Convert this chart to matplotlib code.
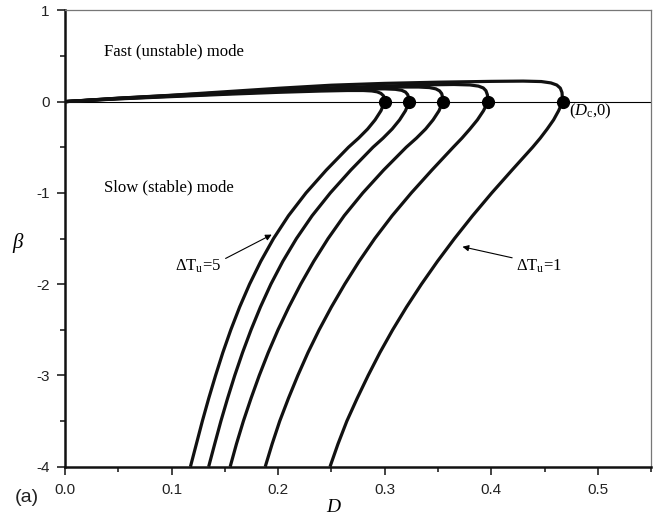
import matplotlib
matplotlib.use("Agg")
import matplotlib.pyplot as plt
from matplotlib.ticker import MultipleLocator, FixedLocator, FuncFormatter

plt.rcParams["mathtext.fontset"] = "custom"
plt.rcParams["mathtext.rm"] = "Liberation Serif"
plt.rcParams["mathtext.it"] = "Liberation Serif:italic"

# Critical points (D_c, 0), from ΔT_u=5 (left) to ΔT_u=1 (right)
d_crit = [0.300, 0.323, 0.3545, 0.397, 0.467]

# Upper (fast, unstable) branches: from the origin up and over to D_c
fast1_d = [0.0, 0.05, 0.10, 0.15, 0.20, 0.24, 0.265, 0.28, 0.288, 0.293, 0.2965, 0.2988, 0.2998, 0.300]
fast1_b = [0.0, 0.03, 0.055, 0.08, 0.102, 0.116, 0.122, 0.122, 0.117, 0.107, 0.09, 0.065, 0.035, 0.0]

fast2_d = [0.0, 0.05, 0.10, 0.15, 0.20, 0.25, 0.28, 0.300, 0.310, 0.316, 0.3195, 0.3215, 0.3226, 0.323]
fast2_b = [0.0, 0.032, 0.06, 0.087, 0.111, 0.13, 0.138, 0.14, 0.135, 0.124, 0.105, 0.078, 0.042, 0.0]

fast3_d = [0.0, 0.05, 0.10, 0.15, 0.20, 0.25, 0.29, 0.315, 0.332, 0.342, 0.348, 0.3515, 0.3535, 0.3543, 0.3545]
fast3_b = [0.0, 0.035, 0.064, 0.093, 0.12, 0.142, 0.155, 0.16, 0.16, 0.154, 0.14, 0.118, 0.088, 0.05, 0.0]

fast4_d = [0.0, 0.05, 0.10, 0.15, 0.20, 0.25, 0.30, 0.34, 0.365, 0.38, 0.388, 0.3925, 0.395, 0.3964, 0.397]
fast4_b = [0.0, 0.037, 0.068, 0.099, 0.128, 0.152, 0.171, 0.184, 0.188, 0.183, 0.17, 0.15, 0.12, 0.075, 0.0]

fast5_d = [0.0, 0.05, 0.10, 0.15, 0.20, 0.25, 0.30, 0.35, 0.40, 0.43, 0.447, 0.456, 0.4615, 0.4648, 0.4664, 0.467]
fast5_b = [0.0, 0.038, 0.07, 0.108, 0.146, 0.18, 0.2, 0.213, 0.222, 0.225, 0.22, 0.205, 0.182, 0.148, 0.1, 0.0]

# Lower (slow, stable) branches: D at each beta level below D_c
slow_b = [-0.1, -0.2, -0.3, -0.4, -0.5, -0.75, -1.0, -1.25, -1.5, -1.75, -2.0,
          -2.25, -2.5, -2.75, -3.0, -3.25, -3.5, -3.75, -4.0]
slow1_d = [0.2965, 0.291, 0.284, 0.2755, 0.266, 0.2452, 0.2262, 0.2097, 0.1957, 0.1837, 0.1732,
           0.1639, 0.1556, 0.1481, 0.1413, 0.1349, 0.1289, 0.1233, 0.1177]
slow2_d = [0.3195, 0.314, 0.307, 0.2985, 0.289, 0.2682, 0.249, 0.2319, 0.2172, 0.2044, 0.1932,
           0.1834, 0.1746, 0.1666, 0.1593, 0.1526, 0.1463, 0.1405, 0.1348]
slow3_d = [0.351, 0.3454, 0.3384, 0.3298, 0.3202, 0.299, 0.2795, 0.262, 0.2469, 0.2334, 0.2212,
           0.2101, 0.1999, 0.1907, 0.1823, 0.1746, 0.1674, 0.1609, 0.155]
slow4_d = [0.3927, 0.387, 0.38, 0.3725, 0.3643, 0.3443, 0.325, 0.307, 0.2907, 0.276, 0.2625,
           0.25, 0.2385, 0.228, 0.2185, 0.2097, 0.2015, 0.1944, 0.1879]
slow5_d = [0.4632, 0.4585, 0.4525, 0.446, 0.4388, 0.4195, 0.4005, 0.3825, 0.3655, 0.3495, 0.3345,
           0.3205, 0.3075, 0.2955, 0.2845, 0.2742, 0.2645, 0.2562, 0.2487]

fast_branches = [(fast1_d, fast1_b), (fast2_d, fast2_b), (fast3_d, fast3_b),
                 (fast4_d, fast4_b), (fast5_d, fast5_b)]
slow_branches = [slow1_d, slow2_d, slow3_d, slow4_d, slow5_d]

x_ticks = [0.0, 0.1, 0.2, 0.3, 0.4, 0.5]
y_ticks = [-4, -3, -2, -1, 0, 1]

fig = plt.figure(figsize=(6.66, 5.18), dpi=100)
ax = fig.add_axes([0.0976, 0.099, 0.88, 0.881])

ax.axhline(0.0, color="black", lw=0.8, zorder=1)

for (fd, fb), sd in zip(fast_branches, slow_branches):
    ax.plot(list(fd) + list(sd), list(fb) + list(slow_b), color="#111111", lw=2.3,
            solid_capstyle="butt", solid_joinstyle="round", zorder=2)

ax.plot(d_crit, [0.0] * len(d_crit), "o", color="black", ms=8.5, zorder=3)

ax.set_xlim(0.0, 0.55)
ax.set_ylim(-4, 1)

ax.xaxis.set_major_locator(FixedLocator(x_ticks))
ax.xaxis.set_minor_locator(MultipleLocator(0.05))
ax.yaxis.set_major_locator(FixedLocator(y_ticks))
ax.yaxis.set_minor_locator(MultipleLocator(0.5))
ax.xaxis.set_major_formatter(FuncFormatter(lambda v, p: f"{v:.1f}"))
ax.yaxis.set_major_formatter(FuncFormatter(lambda v, p: f"{int(round(v))}"))

ax.tick_params(which="both", direction="out", top=False, right=False, color="#222222",
               labelsize=11, labelfontfamily="Liberation Sans", labelcolor="#222222")
ax.tick_params(which="major", length=6, width=1.2)
ax.tick_params(which="minor", length=3.5, width=1.2)
ax.tick_params(axis="x", which="major", pad=6)
ax.tick_params(axis="y", which="major", pad=5)

for side in ("left", "bottom"):
    ax.spines[side].set_linewidth(1.8)
    ax.spines[side].set_color("#111111")
for side in ("top", "right"):
    ax.spines[side].set_linewidth(0.9)
    ax.spines[side].set_color("#777777")

serif = "Liberation Serif"
ax.text(0.0367, 0.55, "Fast (unstable) mode", family=serif, fontsize=12, va="center", ha="left")
ax.text(0.0367, -0.94, "Slow (stable) mode", family=serif, fontsize=12, va="center", ha="left")
ax.text(0.473, -0.11, r"$\text{(}D_{\mathrm{c}}\text{,0)}$", fontsize=12, va="center", ha="left")

ax.annotate(r"$\Delta\mathrm{T}_{\mathrm{u}}\text{=5}$", xy=(0.194, -1.457), xytext=(0.1035, -1.8),
            fontsize=12, va="center", ha="left",
            arrowprops=dict(arrowstyle="-|>", color="black", lw=0.8, mutation_scale=9,
                            shrinkA=1, shrinkB=0, relpos=(1.0, 0.8)))
ax.annotate(r"$\Delta\mathrm{T}_{\mathrm{u}}\text{=1}$", xy=(0.373, -1.59), xytext=(0.4235, -1.8),
            fontsize=12, va="center", ha="left",
            arrowprops=dict(arrowstyle="-|>", color="black", lw=0.8, mutation_scale=9,
                            shrinkA=1, shrinkB=0, relpos=(0.0, 0.9)))

fig.text(18 / 666, 1 - 243 / 518, r"$\beta$", fontsize=15, ha="center", va="center")
fig.text(334 / 666, 1 - 507 / 518, r"$D$", fontsize=14, ha="center", va="center")
fig.text(27 / 666, 1 - 498 / 518, "(a)", family="Liberation Sans", fontsize=14, ha="center", va="center",
         color="#222222")

fig.savefig("out.png", dpi=100)
